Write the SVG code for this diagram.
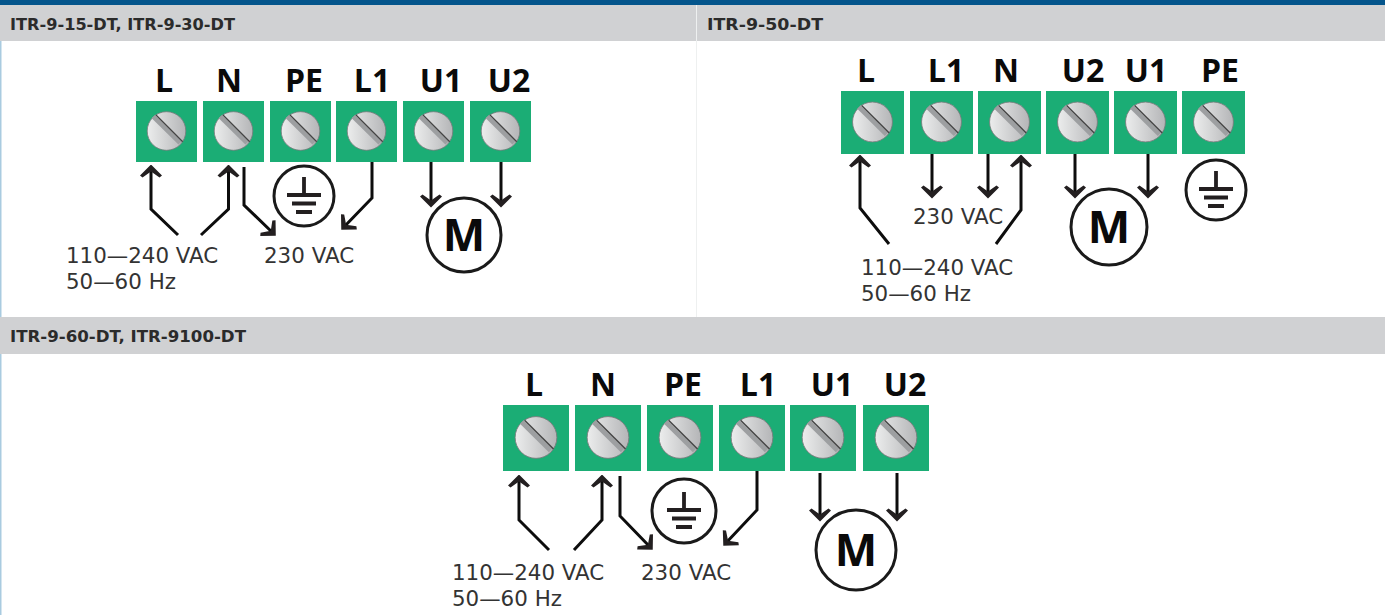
<svg xmlns="http://www.w3.org/2000/svg" width="1385" height="615" viewBox="0 0 1385 615">
<style>
.hd{font:bold 16px "DejaVu Sans",sans-serif;fill:#2b2b2b}
.tl{font:700 32px "Open Sans","Noto Sans",sans-serif;fill:#0a0a0a;text-anchor:middle}
.lb{font:21.4px "DejaVu Sans",sans-serif;fill:#333}
.m{font:700 45px "Open Sans","Noto Sans",sans-serif;fill:#0a0a0a;text-anchor:middle}
.w{fill:none;stroke:#0d0d0d;stroke-width:3}
.c{fill:#fff;stroke:#1a1a1a;stroke-width:3}
</style>
<defs>
<linearGradient id="g" x1="0" y1="0" x2="1" y2="0"><stop offset="0" stop-color="#eceded"/><stop offset="1" stop-color="#b4b5b7"/></linearGradient>
<marker id="a" viewBox="0 0 14 24" refX="11.500" refY="12" markerWidth="14" markerHeight="24" orient="auto" markerUnits="userSpaceOnUse"><path d="M14 12L3 23L1 20.500L7 12L1 3.500L3 1Z" fill="#231f20"/></marker>
<symbol id="t" viewBox="0 0 61 61">
<rect width="61" height="61" fill="#1bad75"/>
<circle cx="30.500" cy="30" r="19.300" fill="url(#g)" stroke="#77797b" stroke-width="0.8"/>
<path d="M17.300 15.700L44 42" stroke="#9d9fa1" stroke-width="4.500"/>
<path d="M20 14L46.700 40.700" stroke="#444" stroke-width="1.300"/>
</symbol>
<g id="gnd"><path d="M0 -19V0M-17 -1H17M-12 7.500H12M-8 16H8" fill="none" stroke="#231f20" stroke-width="3.800"/></g>
</defs>
<rect width="1385" height="615" fill="#fff"/>
<rect x="0" y="0" width="1385" height="5" fill="#04558c"/>
<rect x="0" y="5" width="1.500" height="610" fill="#a9cbe0"/>
<rect x="0" y="5" width="1385" height="36" fill="#d0d1d3"/>
<rect x="696" y="5" width="1" height="312" fill="#eef0f0"/>
<rect x="0" y="317" width="1385" height="37" fill="#d0d1d3"/>
<text class="hd" x="10" y="30" textLength="225" lengthAdjust="spacingAndGlyphs">ITR-9-15-DT, ITR-9-30-DT</text>
<text class="hd" x="707" y="30" textLength="116" lengthAdjust="spacingAndGlyphs">ITR-9-50-DT</text>
<text class="hd" x="10" y="342" textLength="236" lengthAdjust="spacingAndGlyphs">ITR-9-60-DT, ITR-9100-DT</text>

<g id="connectors">
<path class="w" marker-end="url(#a)" d="M178 235L151 209V167"/>
<path class="w" marker-end="url(#a)" d="M201 235L228.500 209V167"/>
<path class="w" marker-end="url(#a)" d="M244 167V205L274 234"/>
<path class="w" marker-end="url(#a)" d="M372 162V198L343 228"/>
<path class="w" marker-end="url(#a)" d="M431 162V205"/>
<path class="w" marker-end="url(#a)" d="M501 162V205"/>
<path class="w" marker-end="url(#a)" d="M889 244L860 208V157"/>
<path class="w" marker-end="url(#a)" d="M996 244L1021 210V157"/>
<path class="w" marker-end="url(#a)" d="M932 154V196"/>
<path class="w" marker-end="url(#a)" d="M988 154V196"/>
<path class="w" marker-end="url(#a)" d="M1075 154V196"/>
<path class="w" marker-end="url(#a)" d="M1148 154V196"/>
<path class="w" marker-end="url(#a)" d="M549 550L519 520V477"/>
<path class="w" marker-end="url(#a)" d="M574 550L602 520V477"/>
<path class="w" marker-end="url(#a)" d="M620 476V516L651 548"/>
<path class="w" marker-end="url(#a)" d="M757 471V510L725 544"/>
<path class="w" marker-end="url(#a)" d="M820 473V519"/>
<path class="w" marker-end="url(#a)" d="M897 473V519"/>
</g>

<g id="panel-1">
<g id="p1-L"><use href="#t" x="136" y="101" width="61" height="61"/><text class="tl" x="164" y="92">L</text></g>
<g id="p1-N"><use href="#t" x="203" y="101" width="61" height="61"/><text class="tl" x="229" y="92">N</text></g>
<g id="p1-PE"><use href="#t" x="270" y="101" width="61" height="61"/><text class="tl" x="304" y="92">PE</text></g>
<g id="p1-L1"><use href="#t" x="336" y="101" width="61" height="61"/><text class="tl" x="372" y="92">L1</text></g>
<g id="p1-U1"><use href="#t" x="403" y="101" width="61" height="61"/><text class="tl" x="441" y="92">U1</text></g>
<g id="p1-U2"><use href="#t" x="470" y="101" width="61" height="61"/><text class="tl" x="509" y="92">U2</text></g>
<g id="p1-ground"><circle class="c" cx="304" cy="196" r="30"/><use href="#gnd" x="304" y="196"/></g>
<g id="p1-motor"><circle class="c" cx="464" cy="235" r="37"/><text class="m" x="464" y="251">M</text></g>
<g id="p1-supply"><text class="lb" x="66" y="263">110—240 VAC</text><text class="lb" x="66" y="289">50—60 Hz</text></g>
<g id="p1-230"><text class="lb" x="264" y="263">230 VAC</text></g>
</g>

<g id="panel-2">
<g id="p2-L"><use href="#t" x="841" y="91" width="63" height="63"/><text class="tl" x="866" y="82">L</text></g>
<g id="p2-L1"><use href="#t" x="910" y="91" width="63" height="63"/><text class="tl" x="946" y="82">L1</text></g>
<g id="p2-N"><use href="#t" x="978" y="91" width="63" height="63"/><text class="tl" x="1006" y="82">N</text></g>
<g id="p2-U2"><use href="#t" x="1046" y="91" width="63" height="63"/><text class="tl" x="1083" y="82">U2</text></g>
<g id="p2-U1"><use href="#t" x="1114" y="91" width="63" height="63"/><text class="tl" x="1146" y="82">U1</text></g>
<g id="p2-PE"><use href="#t" x="1182" y="91" width="63" height="63"/><text class="tl" x="1220" y="82">PE</text></g>
<g id="p2-ground"><circle class="c" cx="1216" cy="190" r="30"/><use href="#gnd" x="1216" y="190"/></g>
<g id="p2-motor"><circle class="c" cx="1109" cy="227" r="38"/><text class="m" x="1109" y="243">M</text></g>
<g id="p2-230"><text class="lb" x="913" y="224">230 VAC</text></g>
<g id="p2-supply"><text class="lb" x="861" y="275">110—240 VAC</text><text class="lb" x="861" y="301">50—60 Hz</text></g>
</g>

<g id="panel-3">
<g id="p3-L"><use href="#t" x="503" y="405" width="66" height="66"/><text class="tl" x="534" y="396">L</text></g>
<g id="p3-N"><use href="#t" x="575" y="405" width="66" height="66"/><text class="tl" x="603" y="396">N</text></g>
<g id="p3-PE"><use href="#t" x="647" y="405" width="66" height="66"/><text class="tl" x="683" y="396">PE</text></g>
<g id="p3-L1"><use href="#t" x="719" y="405" width="66" height="66"/><text class="tl" x="758" y="396">L1</text></g>
<g id="p3-U1"><use href="#t" x="790" y="405" width="66" height="66"/><text class="tl" x="832" y="396">U1</text></g>
<g id="p3-U2"><use href="#t" x="863" y="405" width="66" height="66"/><text class="tl" x="905" y="396">U2</text></g>
<g id="p3-ground"><circle class="c" cx="684" cy="511" r="32"/><use href="#gnd" x="684" y="511"/></g>
<g id="p3-motor"><circle class="c" cx="856" cy="550" r="40"/><text class="m" x="856" y="566">M</text></g>
<g id="p3-supply"><text class="lb" x="452" y="580">110—240 VAC</text><text class="lb" x="452" y="606">50—60 Hz</text></g>
<g id="p3-230"><text class="lb" x="641" y="580">230 VAC</text></g>
</g>
</svg>
